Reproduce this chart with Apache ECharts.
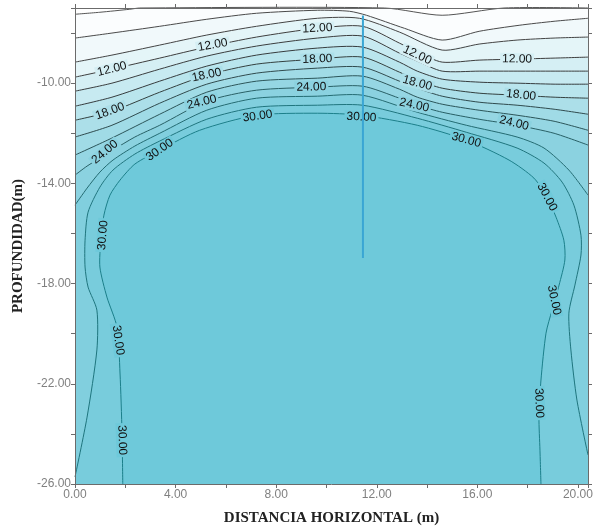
<!DOCTYPE html>
<html><head><meta charset="utf-8">
<script src="https://cdn.jsdelivr.net/npm/echarts/dist/echarts.min.js"></script>
<style>html,body{margin:0;padding:0;background:#fff}#c{width:598px;height:527px}</style>
</head><body><div id="c"></div>
<script>
// ---- data ----
const xTicks = [0, 4, 8, 12, 16, 20];
const yTicks = [-26, -22, -18, -14, -10];
const levels = [6, 8, 10, 12, 14, 16, 18, 20, 22, 24, 26, 28, 30];

const c6 = [[0,-7.25],[0.99,-7.17],[2.18,-7.05],[2.58,-7.0],[12.30,-7.0],[14.60,-7.29],[17.06,-7.0],[20.4,-7.0]];
const c8 = [[0,-8.20],[1.47,-8.00],[3.37,-7.73],[5.24,-7.45],[7.22,-7.21],[9.64,-7.09],[10.91,-7.13],[11.59,-7.29],[13.10,-7.81],[14.60,-8.28],[16.07,-7.93],[17.66,-7.69],[19.05,-7.53],[20.4,-7.41]];
const c10 = [[0,-9.16],[1.47,-8.88],[3.37,-8.48],[5.24,-8.08],[7.22,-7.73],[9.64,-7.41],[11.31,-7.41],[12.90,-7.96],[14.60,-8.68],[16.07,-8.44],[17.58,-8.28],[19.05,-8.20],[20.4,-8.16]];
const c12 = [[0,-9.76],[1.47,-9.44],[3.37,-9.00],[5.24,-8.56],[7.22,-8.16],[9.64,-7.81],[11.43,-7.73],[12.90,-8.40],[13.61,-8.76],[14.60,-9.16],[16.07,-9.08],[17.58,-9.04],[19.05,-9.00],[20.4,-8.96]];
const c14 = [[0,-10.32],[1.47,-10.0],[3.37,-9.44],[5.24,-8.92],[7.22,-8.52],[9.64,-8.20],[11.43,-8.12],[12.90,-8.80],[13.61,-9.12],[14.60,-9.52],[16.07,-9.52],[17.58,-9.52],[19.05,-9.52],[20.4,-9.52]];
const c16 = [[0,-10.92],[1.47,-10.56],[3.37,-9.92],[5.24,-9.32],[7.22,-8.88],[9.64,-8.60],[11.43,-8.56],[12.90,-9.16],[13.61,-9.52],[14.60,-9.84],[16.07,-9.96],[17.58,-10.0],[19.05,-10.04],[20.4,-10.04]];
const c18 = [[0,-11.48],[1.47,-11.12],[3.37,-10.36],[5.24,-9.68],[7.22,-9.24],[9.64,-9.04],[11.43,-8.96],[12.90,-9.56],[13.61,-9.88],[14.60,-10.20],[16.07,-10.40],[17.58,-10.48],[19.05,-10.56],[20.4,-10.60]];
const c20 = [[0,-12.15],[1.47,-11.68],[3.37,-10.80],[5.24,-10.04],[7.22,-9.60],[9.64,-9.40],[11.43,-9.36],[12.90,-9.92],[13.61,-10.20],[14.60,-10.52],[16.07,-10.76],[17.58,-10.88],[19.05,-11.04],[20.4,-11.24]];
const c22 = [[0,-12.87],[1.47,-12.19],[3.37,-11.24],[5.24,-10.36],[7.22,-9.92],[9.64,-9.80],[11.43,-9.72],[12.90,-10.24],[13.61,-10.56],[14.60,-10.84],[16.07,-11.08],[17.58,-11.28],[19.05,-11.52],[20.4,-11.88]];
const c24 = [[0,-13.67],[0.48,-13.31],[0.99,-12.99],[1.51,-12.67],[2.38,-12.15],[3.37,-11.68],[5.24,-10.72],[7.22,-10.28],[9.64,-10.16],[11.43,-10.12],[12.90,-10.60],[13.61,-10.88],[14.60,-11.16],[16.07,-11.44],[17.58,-11.68],[19.05,-12.00],[20.4,-12.47]];
const c26 = [[0,-14.87],[0.48,-14.19],[0.99,-13.55],[1.51,-13.07],[2.38,-12.51],[3.37,-12.00],[5.24,-11.08],[7.22,-10.60],[9.64,-10.52],[11.43,-10.48],[13.61,-11.16],[15.56,-11.68],[17.58,-12.15],[18.65,-12.59],[19.64,-13.47],[20.4,-14.47]];
const c28 = [[0,-25.72],[0.48,-23.33],[0.87,-20.65],[0.87,-19.06],[0.52,-18.14],[0.40,-17.34],[0.40,-16.27],[0.52,-15.15],[0.99,-14.15],[1.51,-13.47],[2.38,-12.83],[3.37,-12.31],[5.24,-11.44],[7.22,-10.96],[9.64,-10.88],[11.43,-10.88],[13.61,-11.40],[15.56,-11.96],[17.58,-12.59],[18.65,-13.19],[19.37,-13.95],[19.84,-14.87],[20.12,-16.07],[20.12,-16.86],[19.88,-18.06],[19.64,-19.18],[19.72,-20.65],[19.96,-22.65],[20.4,-24.84]];
const c30 = [[1.90,-26.0],[1.87,-23.97],[1.79,-21.57],[1.67,-19.74],[1.27,-18.54],[0.99,-17.34],[1.03,-16.27],[1.15,-15.27],[1.39,-14.47],[1.79,-13.87],[2.38,-13.23],[3.37,-12.67],[4.96,-11.88],[7.22,-11.28],[9.64,-11.20],[11.39,-11.28],[13.61,-11.68],[15.56,-12.27],[17.26,-13.07],[18.25,-13.79],[18.77,-14.55],[19.13,-15.35],[19.44,-16.27],[19.48,-17.06],[19.25,-18.06],[18.97,-19.06],[18.73,-19.98],[18.53,-21.85],[18.45,-23.33],[18.49,-24.65],[18.53,-26.0]];

// contour labels: [x, y, level, angle in degrees]
const contourLabels = [
  [1.47,-9.44,12,14],[1.39,-11.12,18,20],[1.19,-12.75,24,40],[3.37,-12.67,30,35],
  [5.48,-8.48,12,10],[5.24,-9.68,18,12],[5.04,-10.76,24,14],[7.26,-11.32,30,8],
  [9.64,-7.81,12,3],[9.64,-9.04,18,2],[9.40,-10.16,24,1],[11.39,-11.36,30,-3],
  [13.61,-8.88,12,-25],[13.61,-10.0,18,-15],[13.49,-10.88,24,-12],[15.56,-12.27,30,-15],
  [17.58,-9.04,12,-1],[17.74,-10.48,18,-6],[17.46,-11.60,24,-14],
  [18.77,-14.55,30,-62],[19.05,-18.66,30,-78],[18.45,-22.77,30,-88],
  [1.11,-16.07,30,85],[1.71,-20.26,30,-82],[1.87,-24.25,30,-88]
];
// vertical borehole line
const sondeo = [[11.45,-7.3],[11.45,-16.98]];

// ---- styles ----
const XMIN = 0, XMAX = 20.4, YMIN = -26, YMAX = -7;
const contours = [c6,c8,c10,c12,c14,c16,c18,c20,c22,c24,c26,c28,c30];
const fillColors = ['#fbfdfe','#f1f9fb','#e4f5f8','#d5eff4','#c7eaf1','#b9e5ed','#acdfe9','#a0dbe6','#95d6e3','#8bd2e0','#81cfde','#78ccdc','#6ec9da'];
const lineColors = ['#555555','#4a4a4a','#444444','#3e3e3e','#3a3d3e','#363c3e','#33403f','#2f4a4d','#2b5559','#286066','#236b72','#1f757e','#1b7f8a'];
const axisColor = '#6b6b6b';
const labelFont = '"Liberation Sans", Arial, sans-serif';
const titleFont = '"Liberation Serif", "Times New Roman", serif';

function near(list, v){ return list.some(t => Math.abs(t - v) < 1e-6); }

const chart = echarts.init(document.getElementById('c'), null, {renderer: 'canvas'});

function axisCommon(extra){
  return Object.assign({
    type: 'value', z: 10,
    axisLine: {show: true, onZero: false, lineStyle: {color: axisColor, width: 1}},
    axisTick: {show: true, inside: false, length: 4, lineStyle: {color: axisColor}},
    splitLine: {show: false}
  }, extra);
}

const option = {
  animation: false,
  backgroundColor: '#ffffff',
  grid: {left: 75, right: 10, top: 8, bottom: 43, containLabel: false, outerBoundsMode: 'none'},
  xAxis: [
    axisCommon({position: 'bottom', min: XMIN, max: XMAX, interval: 2,
      axisLabel: {formatter: v => near(xTicks, v) ? v.toFixed(2) : '', color: '#808080', fontSize: 12, fontFamily: labelFont, margin: 5},
      name: 'DISTANCIA HORIZONTAL (m)', nameLocation: 'middle', nameGap: 27,
      nameTextStyle: {fontFamily: titleFont, fontWeight: 'bold', fontSize: 15, color: '#222'}}),
    axisCommon({position: 'top', min: XMIN, max: XMAX, interval: 2, axisLabel: {show: false}})
  ],
  yAxis: [
    axisCommon({position: 'left', min: YMIN, max: YMAX, interval: 2,
      axisLabel: {formatter: v => near(yTicks, v) ? v.toFixed(2) : '', color: '#808080', fontSize: 12, fontFamily: labelFont, margin: 4},
      name: 'PROFUNDIDAD(m)', nameLocation: 'middle', nameGap: 45, nameRotate: 90,
      nameTextStyle: {fontFamily: titleFont, fontWeight: 'bold', fontSize: 15, color: '#222'}}),
    axisCommon({position: 'right', min: YMIN, max: YMAX, interval: 2, axisLabel: {show: false}})
  ],
  series: [
    {
      type: 'custom', name: 'fill', z: 1, silent: true,
      data: levels.map((l, i) => [i, -20]),
      renderItem: function(params, api){
        const i = api.value(0);
        const pts = contours[i];
        const poly = pts.map(p => api.coord(p));
        poly.push(api.coord([pts[pts.length - 1][0], YMIN]));
        poly.push(api.coord([pts[0][0], YMIN]));
        return {type: 'polygon', shape: {points: poly}, style: {fill: fillColors[i], stroke: null}};
      }
    },
    {
      type: 'custom', name: 'lines', z: 2, silent: true,
      data: levels.map((l, i) => [i, -20]),
      renderItem: function(params, api){
        const i = api.value(0);
        const pts = contours[i].map(p => api.coord(p));
        return {type: 'polyline', shape: {points: pts, smooth: 0.25}, style: {stroke: lineColors[i], lineWidth: 1, fill: null}};
      }
    },
    {
      type: 'custom', name: 'labels', z: 3, silent: true,
      data: contourLabels,
      renderItem: function(params, api){
        const p = api.coord([api.value(0), api.value(1)]);
        const lvl = api.value(2);
        const idx = levels.indexOf(lvl);
        return {type: 'text', x: p[0], y: p[1], rotation: api.value(3) * Math.PI / 180,
          style: {text: lvl.toFixed(2), align: 'center', verticalAlign: 'middle', fill: '#111',
            font: '12px ' + labelFont, backgroundColor: fillColors[idx], padding: [0, 2]}};
      }
    },
    {
      type: 'line', name: 'sondeo', z: 4, silent: true, showSymbol: false,
      data: sondeo, lineStyle: {color: '#3aa6d4', width: 2}
    }
  ]
};
chart.setOption(option);
</script>
</body></html>
